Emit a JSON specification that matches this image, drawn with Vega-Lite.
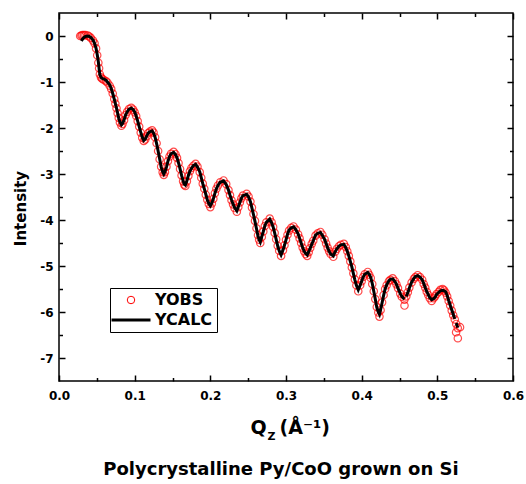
{
  "$schema": "https://vega.github.io/schema/vega-lite/v6.json",
  "autosize": {"type": "none"},
  "padding": {"left": 59, "top": 13, "right": 13, "bottom": 103},
  "width": 454,
  "height": 368,
  "title": {"text": "Polycrystalline Py/CoO grown on Si", "orient": "bottom", "font": "DejaVu Sans", "fontSize": 18, "fontWeight": "bold", "color": "black", "offset": 20, "dx": -5},
  "data": {"values": [
    {"q":0.028,"o":0.00},
    {"q":0.0296,"o":0.01,"c":-0.11},
    {"q":0.031,"o":0.02,"c":-0.07},
    {"q":0.033,"o":0.02,"c":-0.03},
    {"q":0.035,"o":0.02,"c":-0.01},
    {"q":0.038,"o":0.01,"c":0.00},
    {"q":0.040,"o":-0.01,"c":-0.01},
    {"q":0.042,"o":-0.04,"c":-0.03},
    {"q":0.045,"o":-0.10,"c":-0.09},
    {"q":0.047,"o":-0.16,"c":-0.16},
    {"q":0.049,"o":-0.27,"c":-0.27},
    {"q":0.0505,"o":-0.42,"c":-0.40},
    {"q":0.052,"o":-0.58,"c":-0.56},
    {"q":0.053,"o":-0.70,"c":-0.71},
    {"q":0.054,"o":-0.83,"c":-0.84},
    {"q":0.0555,"o":-0.90,"c":-0.90},
    {"q":0.057,"o":-0.93,"c":-0.92},
    {"q":0.059,"o":-0.95,"c":-0.93},
    {"q":0.062,"o":-0.98,"c":-0.96},
    {"q":0.064,"o":-1.01,"c":-1.00},
    {"q":0.067,"o":-1.08,"c":-1.06},
    {"q":0.069,"o":-1.15,"c":-1.14},
    {"q":0.071,"o":-1.25,"c":-1.25},
    {"q":0.073,"o":-1.37,"c":-1.37},
    {"q":0.0745,"o":-1.47,"c":-1.47},
    {"q":0.076,"o":-1.57,"c":-1.57},
    {"q":0.0775,"o":-1.68,"c":-1.68},
    {"q":0.079,"o":-1.78,"c":-1.79},
    {"q":0.0805,"o":-1.88,"c":-1.87},
    {"q":0.0825,"o":-1.95,"c":-1.93},
    {"q":0.084,"o":-1.91,"c":-1.90},
    {"q":0.086,"o":-1.83,"c":-1.82},
    {"q":0.088,"o":-1.72,"c":-1.72},
    {"q":0.090,"o":-1.65,"c":-1.65},
    {"q":0.0925,"o":-1.59,"c":-1.59},
    {"q":0.0955,"o":-1.56,"c":-1.57},
    {"q":0.098,"o":-1.60,"c":-1.60},
    {"q":0.100,"o":-1.66,"c":-1.65},
    {"q":0.102,"o":-1.74,"c":-1.74},
    {"q":0.104,"o":-1.85,"c":-1.85},
    {"q":0.106,"o":-1.97,"c":-1.97},
    {"q":0.108,"o":-2.10,"c":-2.09},
    {"q":0.110,"o":-2.21,"c":-2.20},
    {"q":0.112,"o":-2.28,"c":-2.27},
    {"q":0.114,"o":-2.25,"c":-2.24},
    {"q":0.116,"o":-2.18,"c":-2.17},
    {"q":0.118,"o":-2.11,"c":-2.11},
    {"q":0.120,"o":-2.08,"c":-2.08},
    {"q":0.123,"o":-2.05,"c":-2.06},
    {"q":0.125,"o":-2.10,"c":-2.11},
    {"q":0.127,"o":-2.20,"c":-2.20},
    {"q":0.129,"o":-2.33,"c":-2.34},
    {"q":0.131,"o":-2.50,"c":-2.50},
    {"q":0.133,"o":-2.68,"c":-2.67},
    {"q":0.135,"o":-2.84,"c":-2.85},
    {"q":0.137,"o":-2.96,"c":-2.95},
    {"q":0.1385,"o":-3.02,"c":-3.00},
    {"q":0.140,"o":-2.96,"c":-2.95},
    {"q":0.142,"o":-2.84,"c":-2.85},
    {"q":0.144,"o":-2.72,"c":-2.72},
    {"q":0.146,"o":-2.62,"c":-2.62},
    {"q":0.148,"o":-2.56,"c":-2.56},
    {"q":0.1515,"o":-2.52,"c":-2.53},
    {"q":0.154,"o":-2.57,"c":-2.58},
    {"q":0.156,"o":-2.65,"c":-2.65},
    {"q":0.158,"o":-2.76,"c":-2.76},
    {"q":0.160,"o":-2.89,"c":-2.89},
    {"q":0.162,"o":-3.03,"c":-3.03},
    {"q":0.164,"o":-3.16,"c":-3.15},
    {"q":0.1655,"o":-3.23,"c":-3.22},
    {"q":0.167,"o":-3.26,"c":-3.24},
    {"q":0.169,"o":-3.16,"c":-3.15},
    {"q":0.171,"o":-3.04,"c":-3.03},
    {"q":0.173,"o":-2.94,"c":-2.94},
    {"q":0.175,"o":-2.87,"c":-2.88},
    {"q":0.1775,"o":-2.82,"c":-2.82},
    {"q":0.1805,"o":-2.78,"c":-2.79},
    {"q":0.183,"o":-2.84,"c":-2.85},
    {"q":0.186,"o":-2.96,"c":-2.95},
    {"q":0.188,"o":-3.08,"c":-3.08},
    {"q":0.190,"o":-3.21,"c":-3.21},
    {"q":0.192,"o":-3.32,"c":-3.32},
    {"q":0.194,"o":-3.45,"c":-3.44},
    {"q":0.196,"o":-3.56,"c":-3.56},
    {"q":0.198,"o":-3.65,"c":-3.64},
    {"q":0.200,"o":-3.72,"c":-3.69},
    {"q":0.202,"o":-3.64,"c":-3.63},
    {"q":0.204,"o":-3.54,"c":-3.54},
    {"q":0.206,"o":-3.42,"c":-3.42},
    {"q":0.208,"o":-3.32,"c":-3.32},
    {"q":0.210,"o":-3.25,"c":-3.25},
    {"q":0.213,"o":-3.18,"c":-3.18},
    {"q":0.2175,"o":-3.14,"c":-3.15},
    {"q":0.221,"o":-3.22,"c":-3.23},
    {"q":0.224,"o":-3.35,"c":-3.35},
    {"q":0.226,"o":-3.46,"c":-3.46},
    {"q":0.228,"o":-3.57,"c":-3.56},
    {"q":0.230,"o":-3.66,"c":-3.65},
    {"q":0.232,"o":-3.74,"c":-3.73},
    {"q":0.235,"o":-3.82,"c":-3.80},
    {"q":0.237,"o":-3.72,"c":-3.71},
    {"q":0.239,"o":-3.62,"c":-3.62},
    {"q":0.241,"o":-3.53,"c":-3.53},
    {"q":0.243,"o":-3.47,"c":-3.47},
    {"q":0.248,"o":-3.43,"c":-3.44},
    {"q":0.2505,"o":-3.49,"c":-3.50},
    {"q":0.253,"o":-3.60,"c":-3.60},
    {"q":0.255,"o":-3.73,"c":-3.74},
    {"q":0.257,"o":-3.87,"c":-3.88},
    {"q":0.259,"o":-4.02,"c":-4.03},
    {"q":0.261,"o":-4.18,"c":-4.19},
    {"q":0.263,"o":-4.33,"c":-4.35},
    {"q":0.2645,"o":-4.43,"c":-4.43},
    {"q":0.266,"o":-4.50,"c":-4.48},
    {"q":0.268,"o":-4.37,"c":-4.36},
    {"q":0.270,"o":-4.25,"c":-4.25},
    {"q":0.272,"o":-4.13,"c":-4.13},
    {"q":0.274,"o":-4.05,"c":-4.05},
    {"q":0.2785,"o":-3.97,"c":-3.98},
    {"q":0.281,"o":-4.05,"c":-4.06},
    {"q":0.283,"o":-4.15,"c":-4.15},
    {"q":0.285,"o":-4.28,"c":-4.28},
    {"q":0.287,"o":-4.42,"c":-4.42},
    {"q":0.289,"o":-4.56,"c":-4.56},
    {"q":0.291,"o":-4.67,"c":-4.67},
    {"q":0.2935,"o":-4.78,"c":-4.76},
    {"q":0.296,"o":-4.66,"c":-4.65},
    {"q":0.298,"o":-4.55,"c":-4.55},
    {"q":0.300,"o":-4.43,"c":-4.43},
    {"q":0.302,"o":-4.32,"c":-4.31},
    {"q":0.304,"o":-4.23,"c":-4.22},
    {"q":0.307,"o":-4.17,"c":-4.17},
    {"q":0.310,"o":-4.14,"c":-4.15},
    {"q":0.313,"o":-4.21,"c":-4.21},
    {"q":0.316,"o":-4.31,"c":-4.30},
    {"q":0.318,"o":-4.40,"c":-4.40},
    {"q":0.320,"o":-4.50,"c":-4.50},
    {"q":0.322,"o":-4.60,"c":-4.60},
    {"q":0.324,"o":-4.68,"c":-4.68},
    {"q":0.326,"o":-4.74,"c":-4.73},
    {"q":0.328,"o":-4.78,"c":-4.76},
    {"q":0.330,"o":-4.70,"c":-4.69},
    {"q":0.332,"o":-4.61,"c":-4.61},
    {"q":0.334,"o":-4.52,"c":-4.53},
    {"q":0.336,"o":-4.45,"c":-4.45},
    {"q":0.339,"o":-4.34,"c":-4.33},
    {"q":0.342,"o":-4.29,"c":-4.29},
    {"q":0.3455,"o":-4.26,"c":-4.27},
    {"q":0.348,"o":-4.32,"c":-4.33},
    {"q":0.351,"o":-4.42,"c":-4.42},
    {"q":0.353,"o":-4.51,"c":-4.51},
    {"q":0.355,"o":-4.60,"c":-4.60},
    {"q":0.357,"o":-4.68,"c":-4.68},
    {"q":0.359,"o":-4.74,"c":-4.74},
    {"q":0.3625,"o":-4.80,"c":-4.78},
    {"q":0.365,"o":-4.69,"c":-4.69},
    {"q":0.367,"o":-4.63,"c":-4.63},
    {"q":0.370,"o":-4.57,"c":-4.57},
    {"q":0.3725,"o":-4.54,"c":-4.54},
    {"q":0.3765,"o":-4.52,"c":-4.53},
    {"q":0.379,"o":-4.59,"c":-4.60},
    {"q":0.381,"o":-4.68,"c":-4.68},
    {"q":0.383,"o":-4.78,"c":-4.78},
    {"q":0.385,"o":-4.90,"c":-4.90},
    {"q":0.387,"o":-5.03,"c":-5.02},
    {"q":0.389,"o":-5.16,"c":-5.16},
    {"q":0.391,"o":-5.29,"c":-5.30},
    {"q":0.393,"o":-5.42,"c":-5.42},
    {"q":0.3955,"o":-5.55,"c":-5.52},
    {"q":0.398,"o":-5.42,"c":-5.42},
    {"q":0.400,"o":-5.33,"c":-5.33},
    {"q":0.402,"o":-5.24,"c":-5.24},
    {"q":0.404,"o":-5.18,"c":-5.18},
    {"q":0.408,"o":-5.13,"c":-5.14},
    {"q":0.410,"o":-5.19,"c":-5.18},
    {"q":0.412,"o":-5.26,"c":-5.25},
    {"q":0.414,"o":-5.39,"c":-5.38},
    {"q":0.416,"o":-5.55,"c":-5.55},
    {"q":0.418,"o":-5.72,"c":-5.72},
    {"q":0.420,"o":-5.89,"c":-5.90},
    {"q":0.422,"o":-6.01,"c":-6.00},
    {"q":0.4235,"o":-6.10,"c":-6.05},
    {"q":0.425,"o":-5.96,"c":-5.95},
    {"q":0.427,"o":-5.79,"c":-5.80},
    {"q":0.429,"o":-5.63,"c":-5.64},
    {"q":0.431,"o":-5.50,"c":-5.50},
    {"q":0.433,"o":-5.42,"c":-5.41},
    {"q":0.436,"o":-5.33,"c":-5.32},
    {"q":0.438,"o":-5.30,"c":-5.29},
    {"q":0.441,"o":-5.27,"c":-5.28},
    {"q":0.444,"o":-5.33,"c":-5.34},
    {"q":0.446,"o":-5.40,"c":-5.40},
    {"q":0.448,"o":-5.48,"c":-5.48},
    {"q":0.451,"o":-5.60,"c":-5.60},
    {"q":0.453,"o":-5.67,"c":-5.66},
    {"q":0.4565,"o":-5.73,"c":-5.72},
    {"q":0.4566,"o":-5.86},
    {"q":0.459,"o":-5.66,"c":-5.66},
    {"q":0.461,"o":-5.57,"c":-5.58},
    {"q":0.463,"o":-5.47,"c":-5.48},
    {"q":0.466,"o":-5.36,"c":-5.35},
    {"q":0.469,"o":-5.28,"c":-5.27},
    {"q":0.471,"o":-5.24,"c":-5.23},
    {"q":0.474,"o":-5.20,"c":-5.21},
    {"q":0.477,"o":-5.24,"c":-5.24},
    {"q":0.480,"o":-5.30,"c":-5.30},
    {"q":0.482,"o":-5.39,"c":-5.38},
    {"q":0.484,"o":-5.47,"c":-5.47},
    {"q":0.486,"o":-5.56,"c":-5.55},
    {"q":0.488,"o":-5.63,"c":-5.62},
    {"q":0.490,"o":-5.70,"c":-5.69},
    {"q":0.4925,"o":-5.76,"c":-5.73},
    {"q":0.495,"o":-5.70,"c":-5.71},
    {"q":0.497,"o":-5.66,"c":-5.68},
    {"q":0.499,"o":-5.61,"c":-5.62},
    {"q":0.502,"o":-5.56,"c":-5.57},
    {"q":0.504,"o":-5.52,"c":-5.54},
    {"q":0.507,"o":-5.50,"c":-5.53},
    {"q":0.509,"o":-5.53,"c":-5.54},
    {"q":0.511,"o":-5.58,"c":-5.56},
    {"q":0.513,"o":-5.66,"c":-5.64},
    {"q":0.515,"o":-5.76,"c":-5.75},
    {"q":0.517,"o":-5.86,"c":-5.85},
    {"q":0.519,"o":-5.97,"c":-5.95},
    {"q":0.521,"o":-6.07,"c":-6.05},
    {"q":0.523,"o":-6.16,"c":-6.15},
    {"q":0.5248,"o":-6.44},
    {"q":0.525,"o":-6.26,"c":-6.24},
    {"q":0.527,"o":-6.35,"c":-6.34},
    {"q":0.5271,"o":-6.57},
    {"q":0.530,"o":-6.33}
  ]},
  "layer": [
    {
      "mark": {"type": "point", "filled": false, "size": 55, "strokeWidth": 1.2},
      "encoding": {
        "x": {"field": "q", "type": "quantitative",
              "scale": {"domain": [0, 0.6], "nice": false, "zero": false},
              "axis": {"orient": "bottom", "values": [0, 0.1, 0.2, 0.3, 0.4, 0.5, 0.6], "tickSize": -6, "labelPadding": 15,
                       "labelExpr": "format(datum.value, '.1f')", "labelFlush": false,
                       "title": "Q", "titleFontSize": 19, "titleX": 191, "titleY": 52, "titleAlign": "left", "titleBaseline": "alphabetic"}},
        "y": {"field": "o", "type": "quantitative",
              "scale": {"domain": [-7.5, 0.5], "nice": false, "zero": false},
              "axis": {"orient": "left", "values": [-7, -6, -5, -4, -3, -2, -1, 0], "tickSize": -6, "labelPadding": 12,
                       "labelExpr": "'' + datum.value", "labelFlush": false,
                       "title": "Intensity", "titleFontSize": 15, "titleX": -34, "titleY": 195, "titleAngle": 270, "titleAlign": "center", "titleBaseline": "alphabetic"}},
        "color": {"datum": "YOBS", "type": "nominal",
                  "scale": {"domain": ["YOBS", "YCALC"], "range": ["#ff0000", "#000000"]},
                  "legend": {"orient": "none", "legendX": 51, "legendY": 275, "title": null,
                             "strokeColor": "black", "fillColor": "white", "padding": 4,
                             "symbolSize": 100, "rowPadding": 4,
                             "labelFont": "DejaVu Sans", "labelFontWeight": "bold", "labelFontSize": 16, "labelColor": "black",
                             "encoding": {
                               "symbols": {
                                 "shape": {"value": {"signal": "datum.value === 'YOBS' ? 'circle' : 'stroke'"}},
                                 "size": {"value": {"signal": "datum.value === 'YOBS' ? 56 : 1521"}},
                                 "strokeWidth": {"value": {"signal": "datum.value === 'YOBS' ? 1 : 3"}},
                                 "stroke": {"value": {"signal": "datum.value === 'YOBS' ? '#ff0000' : '#000000'"}},
                                 "fill": {"value": "transparent"},
                                 "opacity": {"value": 1},
                                 "x": {"value": 17}},
                               "labels": {"x": {"value": 41}}
                             }}}
      }
    },
    {
      "mark": {"type": "line", "strokeWidth": 3},
      "encoding": {
        "x": {"field": "q", "type": "quantitative",
              "axis": {"orient": "top", "values": [0, 0.1, 0.2, 0.3, 0.4, 0.5, 0.6], "tickSize": -6, "labels": false,
                       "title": "(Å⁻¹)", "titleFontSize": 19, "titleX": 220, "titleY": 420, "titleAlign": "left", "titleBaseline": "alphabetic"}},
        "y": {"field": "c", "type": "quantitative",
              "axis": {"orient": "right", "values": [-7, -6, -5, -4, -3, -2, -1, 0], "tickSize": -6, "labels": false, "title": null}},
        "color": {"datum": "YCALC", "type": "nominal"}
      }
    },
    {
      "mark": {"type": "point", "opacity": 0},
      "encoding": {
        "x": {"field": "q", "type": "quantitative",
              "axis": {"orient": "bottom", "values": [0.05, 0.15, 0.25, 0.35, 0.45, 0.55], "tickSize": -3.5, "labels": false,
                       "title": "Z", "titleFontSize": 11, "titleX": 208, "titleY": 58, "titleAlign": "left", "titleBaseline": "alphabetic"}},
        "y": {"field": "o", "type": "quantitative",
              "axis": {"orient": "left", "values": [-6.5, -5.5, -4.5, -3.5, -2.5, -1.5, -0.5], "tickSize": -3.5, "labels": false, "title": null}}
      }
    },
    {
      "mark": {"type": "point", "opacity": 0},
      "encoding": {
        "x": {"field": "q", "type": "quantitative",
              "axis": {"orient": "top", "values": [0.05, 0.15, 0.25, 0.35, 0.45, 0.55], "tickSize": -3.5, "labels": false, "title": null}},
        "y": {"field": "o", "type": "quantitative",
              "axis": {"orient": "right", "values": [-6.5, -5.5, -4.5, -3.5, -2.5, -1.5, -0.5], "tickSize": -3.5, "labels": false, "title": null}}
      }
    }
  ],
  "resolve": {"axis": {"x": "independent", "y": "independent"}},
  "config": {
    "font": "DejaVu Sans",
    "axis": {"domain": false, "grid": false, "labelFont": "DejaVu Sans", "labelFontWeight": "bold", "labelFontSize": 12,
             "labelColor": "black", "tickColor": "black", "tickWidth": 1.5, "titleColor": "black",
             "titleFont": "DejaVu Sans", "titleFontWeight": "bold"},
    "view": {"stroke": "black", "strokeWidth": 1.5}
  }
}
